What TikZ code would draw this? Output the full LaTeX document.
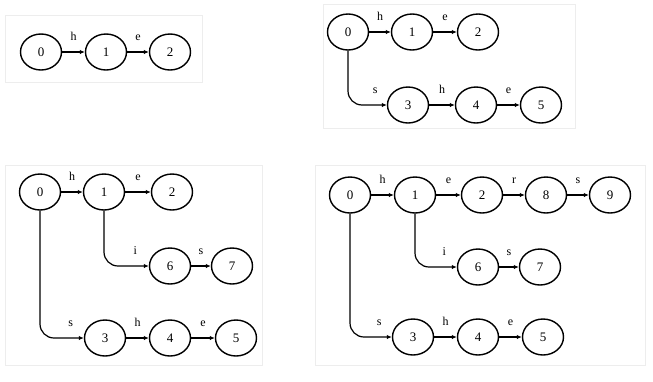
\documentclass[tikz,border=0pt]{standalone}
\usepackage{fontspec}
\setmainfont{Liberation Serif}
\usetikzlibrary{shapes.geometric,arrows.meta}
\begin{document}
\begin{tikzpicture}[x=1pt,y=-1pt,
 st/.style={ellipse, draw, line width=1.4pt, minimum width=41pt, minimum height=36pt, inner sep=0pt, font=\fontsize{13}{13}\selectfont},
 ar/.style={line width=1.2pt, -{Latex[length=5pt,width=4.5pt]}},
 cv/.style={ar, rounded corners=14pt},
 lbl/.style={font=\fontsize{12}{12}\selectfont, inner sep=0pt, anchor=base, yshift=12pt},
 frame/.style={draw=black!7, line width=0.6pt}]
\useasboundingbox (0,0) rectangle (653,381);
% faint panel frames
\draw[frame] (5,15) rectangle (202,82);
\draw[frame] (323,4) rectangle (575,128);
\draw[frame] (5,165) rectangle (262,365);
\draw[frame] (315,165) rectangle (645,365);
% panel 1
\node[st] (a0) at (41,52) {0};
\node[st] (a1) at (106,52) {1};
\node[st] (a2) at (170,52) {2};
\draw[ar] (a0) -- node[lbl]{h} (a1);
\draw[ar] (a1) -- node[lbl]{e} (a2);
% panel 2
\node[st] (b0) at (348,32) {0};
\node[st] (b1) at (412,32) {1};
\node[st] (b2) at (478,32) {2};
\node[st] (b3) at (408,105) {3};
\node[st] (b4) at (476,105) {4};
\node[st] (b5) at (541,105) {5};
\draw[ar] (b0) -- node[lbl]{h} (b1);
\draw[ar] (b1) -- node[lbl]{e} (b2);
\draw[cv] (b0.south) |- node[lbl,pos=0.85]{s} (b3.west);
\draw[ar] (b3) -- node[lbl]{h} (b4);
\draw[ar] (b4) -- node[lbl]{e} (b5);
% panel 3
\node[st] (c0) at (40,192) {0};
\node[st] (c1) at (104,192) {1};
\node[st] (c2) at (172,192) {2};
\node[st] (c6) at (170,266) {6};
\node[st] (c7) at (232,266) {7};
\node[st] (c3) at (105,338) {3};
\node[st] (c4) at (170,338) {4};
\node[st] (c5) at (236,338) {5};
\draw[ar] (c0) -- node[lbl]{h} (c1);
\draw[ar] (c1) -- node[lbl]{e} (c2);
\draw[cv] (c1.south) |- node[lbl,pos=0.85]{i} (c6.west);
\draw[ar] (c6) -- node[lbl]{s} (c7);
\draw[cv] (c0.south) |- node[lbl,pos=0.85]{s} (c3.west);
\draw[ar] (c3) -- node[lbl]{h} (c4);
\draw[ar] (c4) -- node[lbl]{e} (c5);
% panel 4
\node[st] (d0) at (350,195) {0};
\node[st] (d1) at (415,195) {1};
\node[st] (d2) at (482,195) {2};
\node[st] (d8) at (546,195) {8};
\node[st] (d9) at (610,195) {9};
\node[st] (d6) at (478,267) {6};
\node[st] (d7) at (540,267) {7};
\node[st] (d3) at (413,337) {3};
\node[st] (d4) at (478,337) {4};
\node[st] (d5) at (543,337) {5};
\draw[ar] (d0) -- node[lbl]{h} (d1);
\draw[ar] (d1) -- node[lbl]{e} (d2);
\draw[ar] (d2) -- node[lbl]{r} (d8);
\draw[ar] (d8) -- node[lbl]{s} (d9);
\draw[cv] (d1.south) |- node[lbl,pos=0.85]{i} (d6.west);
\draw[ar] (d6) -- node[lbl]{s} (d7);
\draw[cv] (d0.south) |- node[lbl,pos=0.85]{s} (d3.west);
\draw[ar] (d3) -- node[lbl]{h} (d4);
\draw[ar] (d4) -- node[lbl]{e} (d5);
\end{tikzpicture}
\end{document}
